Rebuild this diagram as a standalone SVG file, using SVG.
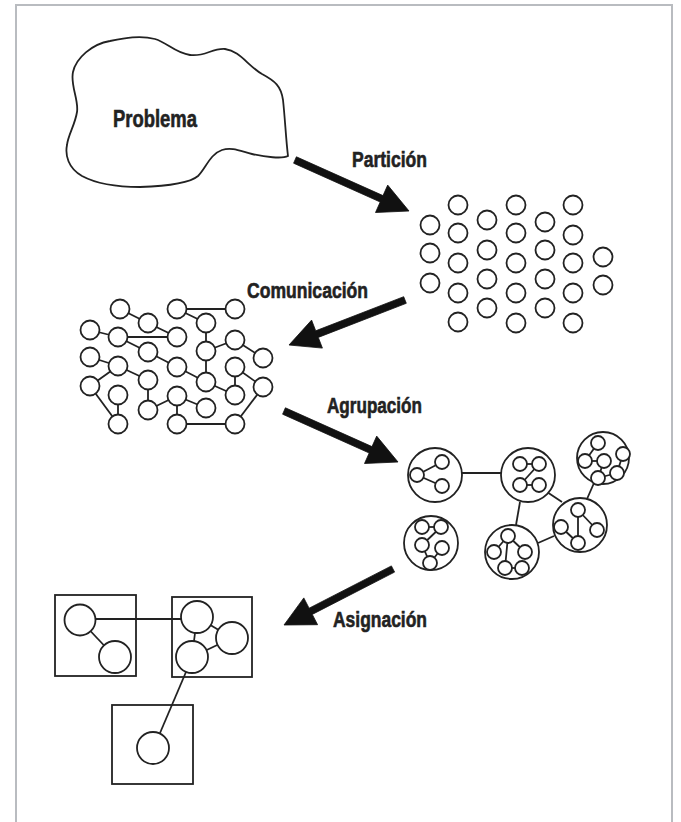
<svg xmlns="http://www.w3.org/2000/svg" width="681" height="822" viewBox="0 0 681 822">
<style>
.frame{fill:none;stroke:#b9bcc0;stroke-width:2}
.ln{stroke:#222;stroke-width:1.8;fill:none}
.c{fill:#fff;stroke:#222;stroke-width:1.8}
.arr{fill:#111;stroke:#111;stroke-width:0.8;stroke-linejoin:miter}
.lbl{font-family:"Liberation Sans Narrow","Liberation Sans",Arial,sans-serif;font-weight:bold;font-size:22px;fill:#222;stroke:#222;stroke-width:0.6}
</style>
<rect width="681" height="822" fill="#fff"/>
<rect class="frame" x="16" y="5" width="656" height="830"/>

<g id="problema">
<path class="ln" d="M73,72 C76,58 92,44 110,41 C125,38 140,35 155,39 C168,43 175,53 190,55 C205,57 212,48 225,49 C240,51 248,66 262,74 C275,81 281,86 283,100 C285,118 286,140 288,156 C282,159 265,157 252,154 C240,151 232,147 222,150 C210,154 206,168 198,176 C190,183 170,186 140,187 C115,187 95,183 82,176 C68,168 65,155 67,145 C68,135 75,125 77,112 C79,100 70,85 73,72 Z"/>
<text class="lbl" x="113" y="127" textLength="84" lengthAdjust="spacingAndGlyphs" style="font-size:23.5px">Problema</text>
</g>

<g id="connectors">
<polygon class="arr" points="296.4,156.8 383.0,195.6 387.7,185.1 409,211 375.5,212.5 380.2,202.0 293.6,163.2"/>
<polygon class="arr" points="403.7,296.7 315.7,330.8 311.6,320.1 289,345 322.4,348.1 318.3,337.4 406.3,303.3"/>
<polygon class="arr" points="285.4,407.8 372.0,446.6 376.7,436.1 398,462 364.5,463.5 369.2,453.0 282.6,414.2"/>
<polygon class="arr" points="391.4,565.9 309.1,608.2 303.8,597.9 284,625 317.6,624.7 312.3,614.4 394.6,572.1"/>
<line class="ln" x1="462" y1="473" x2="502" y2="473"/>
<line class="ln" x1="547" y1="492" x2="562" y2="502"/>
<line class="ln" x1="520" y1="502" x2="516" y2="525"/>
<line class="ln" x1="594" y1="483" x2="587" y2="499"/>
<line class="ln" x1="538" y1="543" x2="554" y2="536"/>
<line class="ln" x1="95" y1="619" x2="182" y2="619"/>
<line class="ln" x1="186" y1="672" x2="160" y2="733"/>
</g>

<text class="lbl" x="352" y="167" textLength="75" lengthAdjust="spacingAndGlyphs">Partición</text>
<text class="lbl" x="247" y="298" textLength="121" lengthAdjust="spacingAndGlyphs">Comunicación</text>
<text class="lbl" x="327" y="413" textLength="95" lengthAdjust="spacingAndGlyphs">Agrupación</text>
<text class="lbl" x="333" y="627" textLength="94" lengthAdjust="spacingAndGlyphs">Asignación</text>

<g id="particion">
<circle class="c" cx="430" cy="225" r="9.5"/><circle class="c" cx="430" cy="253" r="9.5"/><circle class="c" cx="430" cy="283" r="9.5"/>
<circle class="c" cx="458" cy="205" r="9.5"/><circle class="c" cx="458" cy="233" r="9.5"/><circle class="c" cx="458" cy="263" r="9.5"/><circle class="c" cx="458" cy="293" r="9.5"/><circle class="c" cx="458" cy="322" r="9.5"/>
<circle class="c" cx="487" cy="220" r="9.5"/><circle class="c" cx="487" cy="250" r="9.5"/><circle class="c" cx="487" cy="279" r="9.5"/><circle class="c" cx="487" cy="308" r="9.5"/>
<circle class="c" cx="516" cy="205" r="9.5"/><circle class="c" cx="516" cy="233" r="9.5"/><circle class="c" cx="516" cy="263" r="9.5"/><circle class="c" cx="516" cy="293" r="9.5"/><circle class="c" cx="516" cy="323" r="9.5"/>
<circle class="c" cx="545" cy="222" r="9.5"/><circle class="c" cx="545" cy="250" r="9.5"/><circle class="c" cx="545" cy="279" r="9.5"/><circle class="c" cx="545" cy="308" r="9.5"/>
<circle class="c" cx="573" cy="205" r="9.5"/><circle class="c" cx="573" cy="235" r="9.5"/><circle class="c" cx="573" cy="263" r="9.5"/><circle class="c" cx="573" cy="293" r="9.5"/><circle class="c" cx="573" cy="323" r="9.5"/>
<circle class="c" cx="603" cy="257" r="9.5"/><circle class="c" cx="603" cy="285" r="9.5"/>
</g>

<g id="comunicacion">
<g class="ln">
<line x1="120" y1="309" x2="148" y2="323"/><line x1="148" y1="323" x2="177" y2="337"/>
<line x1="177" y1="309" x2="235" y2="309"/><line x1="177" y1="309" x2="206" y2="323"/>
<line x1="206" y1="323" x2="206" y2="351"/><line x1="90" y1="330" x2="118" y2="337"/>
<line x1="118" y1="337" x2="177" y2="337"/><line x1="118" y1="337" x2="148" y2="352"/>
<line x1="148" y1="352" x2="177" y2="367"/><line x1="177" y1="367" x2="206" y2="382"/>
<line x1="206" y1="351" x2="206" y2="382"/><line x1="206" y1="351" x2="235" y2="340"/>
<line x1="235" y1="340" x2="263" y2="358"/><line x1="90" y1="357" x2="118" y2="366"/>
<line x1="118" y1="366" x2="148" y2="380"/><line x1="118" y1="366" x2="90" y2="386"/>
<line x1="90" y1="386" x2="118" y2="424"/><line x1="118" y1="395" x2="118" y2="424"/>
<line x1="148" y1="380" x2="148" y2="410"/><line x1="148" y1="410" x2="177" y2="396"/>
<line x1="177" y1="396" x2="206" y2="408"/><line x1="177" y1="396" x2="177" y2="424"/>
<line x1="177" y1="424" x2="235" y2="424"/><line x1="235" y1="424" x2="263" y2="387"/>
<line x1="263" y1="387" x2="235" y2="367"/><line x1="235" y1="367" x2="235" y2="395"/>
<line x1="206" y1="382" x2="235" y2="395"/>
</g>
<circle class="c" cx="120" cy="309" r="9.5"/><circle class="c" cx="177" cy="309" r="9.5"/><circle class="c" cx="235" cy="309" r="9.5"/>
<circle class="c" cx="148" cy="323" r="9.5"/><circle class="c" cx="206" cy="323" r="9.5"/>
<circle class="c" cx="90" cy="330" r="9.5"/><circle class="c" cx="118" cy="337" r="9.5"/><circle class="c" cx="177" cy="337" r="9.5"/>
<circle class="c" cx="235" cy="340" r="9.5"/><circle class="c" cx="148" cy="352" r="9.5"/><circle class="c" cx="206" cy="351" r="9.5"/>
<circle class="c" cx="263" cy="358" r="9.5"/><circle class="c" cx="90" cy="357" r="9.5"/><circle class="c" cx="118" cy="366" r="9.5"/>
<circle class="c" cx="177" cy="367" r="9.5"/><circle class="c" cx="235" cy="367" r="9.5"/><circle class="c" cx="148" cy="380" r="9.5"/>
<circle class="c" cx="206" cy="382" r="9.5"/><circle class="c" cx="263" cy="387" r="9.5"/><circle class="c" cx="90" cy="386" r="9.5"/>
<circle class="c" cx="118" cy="395" r="9.5"/><circle class="c" cx="177" cy="396" r="9.5"/><circle class="c" cx="235" cy="395" r="9.5"/>
<circle class="c" cx="148" cy="410" r="9.5"/><circle class="c" cx="206" cy="408" r="9.5"/>
<circle class="c" cx="118" cy="424" r="9.5"/><circle class="c" cx="177" cy="424" r="9.5"/><circle class="c" cx="235" cy="424" r="9.5"/>
</g>

<g id="grupo1">
<circle class="c" cx="435" cy="475" r="27"/>
<g class="ln"><line x1="417" y1="475" x2="442" y2="462"/><line x1="417" y1="475" x2="442" y2="486"/></g>
<circle class="c" cx="442" cy="462" r="7"/><circle class="c" cx="417" cy="475" r="7"/><circle class="c" cx="442" cy="486" r="7"/>
</g>
<g id="grupo2">
<circle class="c" cx="528" cy="475" r="27"/>
<g class="ln"><line x1="520" y1="464" x2="539" y2="464"/><line x1="539" y1="464" x2="520" y2="485"/><line x1="520" y1="485" x2="539" y2="485"/></g>
<circle class="c" cx="520" cy="464" r="7"/><circle class="c" cx="539" cy="464" r="7"/><circle class="c" cx="520" cy="485" r="7"/><circle class="c" cx="539" cy="485" r="7"/>
</g>
<g id="grupo3">
<circle class="c" cx="603" cy="458" r="26"/>
<g class="ln"><line x1="598" y1="443" x2="585" y2="461"/><line x1="585" y1="461" x2="604" y2="461"/><line x1="604" y1="461" x2="598" y2="478"/><line x1="598" y1="478" x2="617" y2="473"/><line x1="617" y1="473" x2="623" y2="454"/></g>
<circle class="c" cx="598" cy="443" r="7"/><circle class="c" cx="585" cy="461" r="7"/><circle class="c" cx="604" cy="461" r="7"/><circle class="c" cx="623" cy="454" r="7"/><circle class="c" cx="598" cy="478" r="7"/><circle class="c" cx="617" cy="473" r="7"/>
</g>
<g id="grupo4">
<circle class="c" cx="580" cy="525" r="27"/>
<g class="ln"><line x1="578" y1="510" x2="578" y2="543"/><line x1="561" y1="527" x2="578" y2="543"/><line x1="578" y1="510" x2="597" y2="530"/></g>
<circle class="c" cx="578" cy="510" r="7"/><circle class="c" cx="561" cy="527" r="7"/><circle class="c" cx="578" cy="543" r="7"/><circle class="c" cx="597" cy="530" r="7"/>
</g>
<g id="grupo5">
<circle class="c" cx="512" cy="552" r="27"/>
<g class="ln"><line x1="508" y1="536" x2="494" y2="552"/><line x1="508" y1="536" x2="525" y2="552"/><line x1="508" y1="536" x2="505" y2="568"/><line x1="505" y1="568" x2="522" y2="568"/></g>
<circle class="c" cx="508" cy="536" r="7"/><circle class="c" cx="494" cy="552" r="7"/><circle class="c" cx="525" cy="552" r="7"/><circle class="c" cx="505" cy="568" r="7"/><circle class="c" cx="522" cy="568" r="7"/>
</g>
<g id="grupo6">
<circle class="c" cx="431" cy="543" r="27"/>
<g class="ln"><line x1="422" y1="527" x2="441" y2="527"/><line x1="441" y1="527" x2="422" y2="545"/><line x1="422" y1="545" x2="430" y2="563"/><line x1="442" y1="548" x2="430" y2="563"/></g>
<circle class="c" cx="422" cy="527" r="7"/><circle class="c" cx="441" cy="527" r="7"/><circle class="c" cx="422" cy="545" r="7"/><circle class="c" cx="442" cy="548" r="7"/><circle class="c" cx="430" cy="563" r="7"/>
</g>

<g id="procesador1">
<rect class="ln" x="55" y="595" width="81" height="81"/>
<line class="ln" x1="80" y1="620" x2="115" y2="657"/>
<circle class="c" cx="80" cy="620" r="15.5"/><circle class="c" cx="115" cy="657" r="16"/>
</g>
<g id="procesador2">
<rect class="ln" x="172" y="597" width="80" height="80"/>
<g class="ln"><line x1="197" y1="617" x2="192" y2="657"/><line x1="197" y1="617" x2="232" y2="638"/><line x1="192" y1="657" x2="232" y2="638"/></g>
<circle class="c" cx="197" cy="617" r="16"/><circle class="c" cx="232" cy="638" r="16"/><circle class="c" cx="192" cy="657" r="16"/>
</g>
<g id="procesador3">
<rect class="ln" x="112" y="705" width="81" height="79"/>
<circle class="c" cx="153" cy="748" r="16"/>
</g>
</svg>
